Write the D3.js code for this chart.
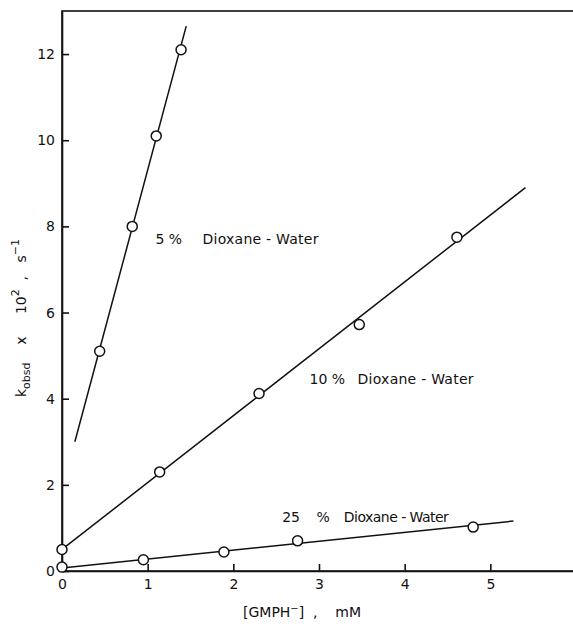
<!DOCTYPE html>
<head>
    <meta charset="utf-8">
    <title>kobsd vs GMPH</title>
    <script type="text/javascript" src="https://d3js.org/d3.v7.min.js"></script>
    <style>
        body { margin: 0; background: #fff; }
        text { font-family: "DejaVu Sans", sans-serif; fill: #111; }
        .axis path, .axis line { stroke: #111; stroke-width: 1.6; }
        .axis text { font-size: 14px; }
    </style>
</head>
<body>
<div id="container"></div>
<script>
    //-----------------------------DATA------------------------------//
    const xTicks = [0, 1, 2, 3, 4, 5, 6];
    const yTicks = [0, 2, 4, 6, 8, 10, 12];

    const seriesPct = ["5 %", "10 %", "25 %"];
    const seriesName = "Dioxane - Water";

    // measured points [GMPH-] mM, kobsd x 10^2
    const pts5 = [[0.44, 5.1], [0.82, 8.0], [1.10, 10.1], [1.39, 12.1]];
    const pts10 = [[0, 0.5], [1.14, 2.3], [2.30, 4.12], [3.47, 5.72], [4.61, 7.75]];
    const pts25 = [[0, 0.09], [0.95, 0.26], [1.89, 0.44], [2.75, 0.70], [4.80, 1.02]];

    // drawn fit lines (end points)
    const fit5 = [[0.15, 3.0], [1.45, 12.65]];
    const fit10 = [[0, 0.5], [5.41, 8.9]];
    const fit25 = [[0, 0.07], [5.27, 1.16]];

    // label anchors in data units, and gap to "Dioxane - Water" in mM
    const labelPos = [[1.09, 7.6], [2.89, 4.35], [2.57, 1.14]];
    const labelGap = [0.55, 0.56, 0.72];

    //-----------------------------SVG-------------------------------//
    const width = 573, height = 627;
    const svg = d3.select("div#container").append("svg")
        .attr("width", width)
        .attr("height", height);

    const xScale = d3.scaleLinear().domain([0, 6]).range([62, 576]);
    const yScale = d3.scaleLinear().domain([0, 13]).range([571, 11]);

    //----------------------------FRAME------------------------------//
    svg.append("rect")
        .attr("x", xScale(0)).attr("y", yScale(13))
        .attr("width", xScale(6) - xScale(0))
        .attr("height", yScale(0) - yScale(13))
        .attr("fill", "none")
        .attr("stroke", "#111")
        .attr("stroke-width", 1.6);

    //-----------------------------AXES------------------------------//
    const xaxis = d3.axisBottom(xScale)
        .tickValues(xTicks)
        .tickSizeInner(-7).tickSizeOuter(0)
        .tickPadding(8)
        .tickFormat(d => d === 6 ? "" : d);
    svg.append("g")
        .attr("class", "axis")
        .attr("transform", `translate(0, ${yScale(0)})`)
        .call(xaxis);

    const yaxis = d3.axisLeft(yScale)
        .tickValues(yTicks)
        .tickSizeInner(-7).tickSizeOuter(0)
        .tickPadding(8);
    const gy = svg.append("g")
        .attr("class", "axis")
        .attr("transform", `translate(${xScale(0)}, 0)`)
        .call(yaxis);
    gy.selectAll(".tick text").attr("x", -7);

    //----------------------------LINES------------------------------//
    const line = d3.line()
        .x(d => xScale(d[0]))
        .y(d => yScale(d[1]));

    [fit5, fit10, fit25].forEach(f => {
        svg.append("path")
            .attr("d", line(f))
            .attr("fill", "none")
            .attr("stroke", "#111")
            .attr("stroke-width", 1.5);
    });

    //----------------------------POINTS-----------------------------//
    [pts5, pts10, pts25].forEach(p => {
        svg.selectAll(null)
            .data(p)
            .enter()
            .append("circle")
            .attr("cx", d => xScale(d[0]))
            .attr("cy", d => yScale(d[1]))
            .attr("r", 5)
            .attr("fill", "#fff")
            .attr("stroke", "#111")
            .attr("stroke-width", 1.5);
    });

    //----------------------------LABELS-----------------------------//
    const labels = svg.selectAll(null)
        .data(seriesPct)
        .enter()
        .append("text")
        .attr("y", (d, i) => yScale(labelPos[i][1]))
        .attr("font-size", 14);
    labels.append("tspan")
        .attr("x", (d, i) => xScale(labelPos[i][0]))
        .attr("xml:space", "preserve")
        .style("word-spacing", (d, i) => i === 2 ? "12px" : "0px")
        .text(d => d);
    labels.append("tspan")
        .attr("x", (d, i) => xScale(labelPos[i][0] + labelGap[i]))
        .attr("textLength", (d, i) => i === 2 ? 105 : 116)
        .text(seriesName);

    // axis titles
    svg.append("text")
        .attr("x", 243).attr("y", 617)
        .attr("font-size", 14)
        .attr("xml:space", "preserve")
        .style("white-space", "pre")
        .html('[GMPH<tspan dy="-5" font-size="10">\u2212</tspan><tspan dy="5">]  ,    mM</tspan>');

    svg.append("text")
        .attr("transform", "translate(26, 397) rotate(-90)")
        .attr("font-size", 14)
        .attr("xml:space", "preserve")
        .style("white-space", "pre")
        .html('k<tspan dy="4" font-size="11">obsd</tspan><tspan dy="-4">    x     10</tspan><tspan dy="-7" font-size="11">2</tspan><tspan dy="7">  ,   s</tspan><tspan dy="-7" font-size="11">\u22121</tspan>');
</script>
</body>
